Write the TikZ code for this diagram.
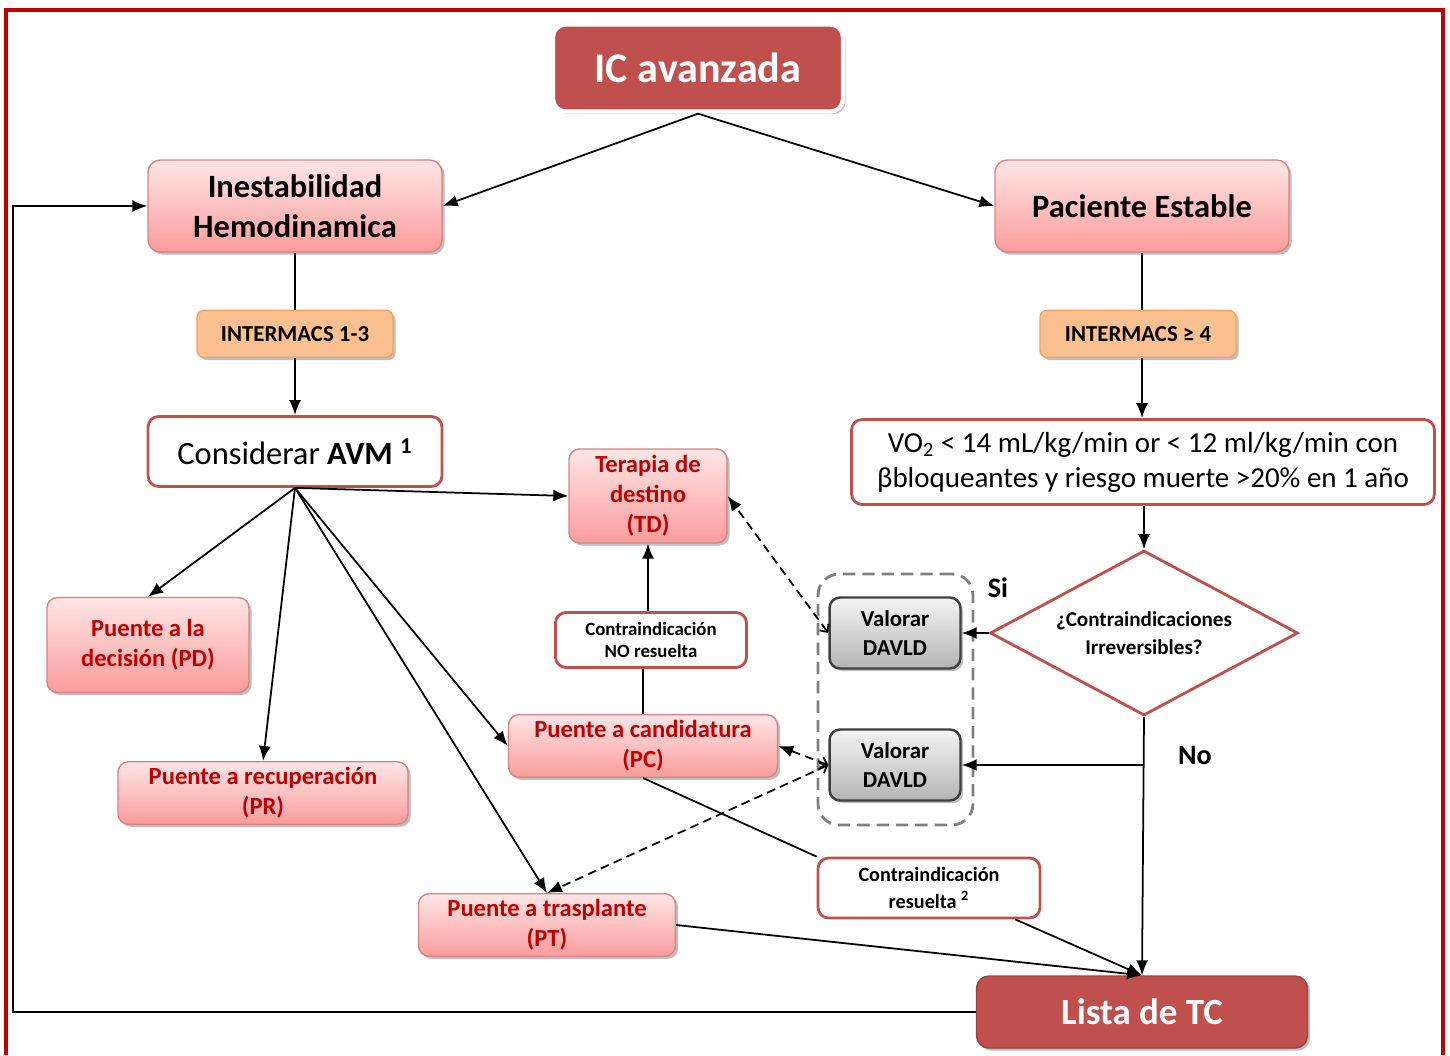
\documentclass[tikz,border=0pt]{standalone}
\usepackage{fontspec}
\setmainfont{Carlito}
\usetikzlibrary{arrows.meta, positioning, shapes.geometric, shadows}
\definecolor{icred}{HTML}{C0504D}
\definecolor{icframe}{HTML}{C00000}
\definecolor{pinktop}{HTML}{FFE6E6}
\definecolor{pinkbot}{HTML}{FA9C9C}
\definecolor{pinkline}{HTML}{D9827F}
\definecolor{orfill}{HTML}{FAC090}
\definecolor{orline}{HTML}{F2A261}
\definecolor{greytop}{HTML}{F4F4F4}
\definecolor{greybot}{HTML}{B4B4B4}
\definecolor{greyline}{HTML}{3F3F3F}
\tikzset{
  shd/.style={drop shadow={shadow xshift=1.5pt, shadow yshift=-1.5pt, opacity=0.25, fill=black}},
  hdr/.style={rectangle, rounded corners=7pt, fill=icred, draw=white, line width=2.5pt, text=white,
    font=\bfseries\fontsize{24}{28}\selectfont, align=center, shd},
  tier/.style={rectangle, rounded corners=7pt, top color=pinktop, bottom color=pinkbot, draw=pinkline,
    line width=0.8pt, minimum width=5.88cm, minimum height=1.84cm, font=\bfseries\fontsize{18.5}{22.5}\selectfont,
    align=center, shd},
  imacs/.style={rectangle, rounded corners=4pt, fill=orfill, draw=orline, line width=0.8pt,
    minimum width=3.92cm, minimum height=0.94cm, font=\bfseries\fontsize{13}{15}\selectfont, shd},
  crit/.style={rectangle, rounded corners=6pt, fill=white, draw=icred, line width=1.6pt, align=center},
  bridge/.style={rectangle, rounded corners=6pt, top color=pinktop, bottom color=pinkbot, draw=pinkline,
    line width=0.8pt, text=icframe, font=\bfseries\fontsize{14}{17}\selectfont, align=center, shd},
  assess/.style={rectangle, rounded corners=6pt, top color=greytop, bottom color=greybot, draw=greyline,
    line width=1.4pt, minimum width=2.62cm, minimum height=1.42cm, font=\bfseries\fontsize{13}{16}\selectfont,
    align=center, shd},
  ask/.style={diamond, aspect=1.87, draw=icred, line width=1.6pt, fill=white, inner sep=0pt, minimum width=6.16cm,
    minimum height=3.3cm, font=\bfseries\fontsize{12}{16}\selectfont, align=center},
  grp/.style={draw=black!50, line width=1.6pt, dash pattern=on 7pt off 4pt, rounded corners=12pt},
  tag/.style={font=\bfseries\fontsize{16}{18}\selectfont},
  frame/.style={draw=icframe, line width=2.2pt},
  arr/.style={-{Latex[length=3mm, width=2.4mm]}, line width=1pt},
  dasharr/.style={{Straight Barb[length=1.2mm, width=2.2mm]}-{Latex[length=3mm, width=2.4mm]}, line width=1pt,
    dash pattern=on 5pt off 3pt},
  ln/.style={line width=1pt},
}
\begin{document}
\begin{tikzpicture}[x=0.02cm, y=-0.02cm]
    \useasboundingbox (0,0) rectangle (1450,1055);
    \draw[frame] (6,1055) -- (6,10) -- (1443,10) -- (1443,1055);
    \node[hdr, minimum width=5.8cm, minimum height=1.74cm] (ic) at (698,68) {IC avanzada};
    \node[tier] (inest) at (295,206) {Inestabilidad\\Hemodinamica};
    \node[tier] (estab) at (1142,206) {Paciente Estable};
    \node[imacs, below=1.14cm of inest] (im13) {INTERMACS 1-3};
    \node[imacs, below=1.14cm of estab, xshift=-0.08cm] (im4) {INTERMACS ≥ 4};
    \node[crit, below=1.14cm of im13, minimum width=5.88cm, minimum height=1.4cm,
      font=\fontsize{18.5}{22}\selectfont] (cons) {Considerar \textbf{AVM} \textsuperscript{\textbf{1}}};
    \node[crit, minimum width=11.66cm, minimum height=1.7cm, font=\fontsize{16.5}{20}\selectfont] (vo2)
      at (1143,462) {VO\textsubscript{2} < 14 mL/kg/min or < 12 ml/kg/min con\\βbloqueantes y riesgo muerte >20\% en 1 año};
    \node[ask] (contra) at (1144,633) {¿Contraindicaciones\\Irreversibles?};
    \node[bridge, minimum width=3.16cm, minimum height=1.88cm] (td) at (648,496) {Terapia de\\destino\\(TD)};
    \node[crit, minimum width=3.82cm, minimum height=1.1cm, font=\bfseries\fontsize{10.7}{12.5}\selectfont] (cno)
      at (651,640) {Contraindicación\\NO resuelta};
    \node[bridge, minimum width=4.04cm, minimum height=1.9cm] (pd) at (148,645) {Puente a la\\decisión (PD)};
    \node[bridge, minimum width=5.8cm, minimum height=1.18cm] (pr) at (263,793) {Puente a recuperación\\(PR)};
    \node[bridge, minimum width=5.38cm, minimum height=1.22cm] (pc) at (643,746) {Puente a candidatura\\(PC)};
    \node[bridge, minimum width=5.14cm, minimum height=1.18cm] (pt) at (547,925) {Puente a trasplante\\(PT)};
    \node[assess] (val1) at (895,633) {Valorar\\DAVLD};
    \node[assess] (val2) at (895,765) {Valorar\\DAVLD};
    \node[grp, minimum width=3.1cm, minimum height=5.02cm] (grp) at (895.5,699.5) {};
    \node[tag] (si) at (998,588) {Si};
    \node[tag] (no) at (1195,755) {No};
    \node[crit, minimum width=4.44cm, minimum height=1.2cm, font=\bfseries\fontsize{11.5}{15}\selectfont] (cres)
      at (929,888) {Contraindicación\\resuelta \textsuperscript{2}};
    \node[hdr, minimum width=6.62cm, minimum height=1.44cm, draw=icred!80!black, line width=0.8pt,
      font=\bfseries\fontsize{21}{25}\selectfont] (lista) at (1142,1012) {Lista de TC};
    \coordinate (nob) at (contra.south |- val2.east);
    \coordinate (fb) at (13,1012);
    \draw[arr] (ic.south) -- (inest.east);
    \draw[arr] (ic.south) -- (estab.west);
    \draw[ln] (inest) -- (im13);
    \draw[arr] (im13) -- (cons);
    \draw[ln] (estab.south) -- (estab.south |- im4.north);
    \draw[arr] (estab.south |- im4.south) -- (estab.south |- vo2.north);
    \draw[arr] (vo2.south -| contra.north) -- (contra.north);
    \draw[arr] (contra.west) -- (val1.east);
    \draw[arr] (contra.south) -- (lista.north);
    \draw[arr] (nob) -- (val2.east);
    \draw[arr] (cons.south) -- (pd.north);
    \draw[arr] (cons.south) -- (pr.north);
    \draw[arr] (cons.south) -- (pc.west);
    \draw[arr] (cons.south) -- (pt.north);
    \draw[arr] (cons.south) -- (td.west);
    \draw[arr] (cno.north -| td.south) -- (td.south);
    \draw[ln] (pc.north) -- (pc.north |- cno.south);
    \draw[dasharr] (val1.west) -- (td.east);
    \draw[dasharr] (val2.west) -- (pc.east);
    \draw[dasharr] (val2.west) -- (pt.north);
    \draw[ln] (pc.south) -- (cres.north west);
    \draw[arr] (cres.-20) -- (lista.north);
    \draw[arr] (pt.east) -- (lista.north);
    \draw[arr] (lista.west) -- (fb) |- (inest.west);
\end{tikzpicture}
\end{document}
